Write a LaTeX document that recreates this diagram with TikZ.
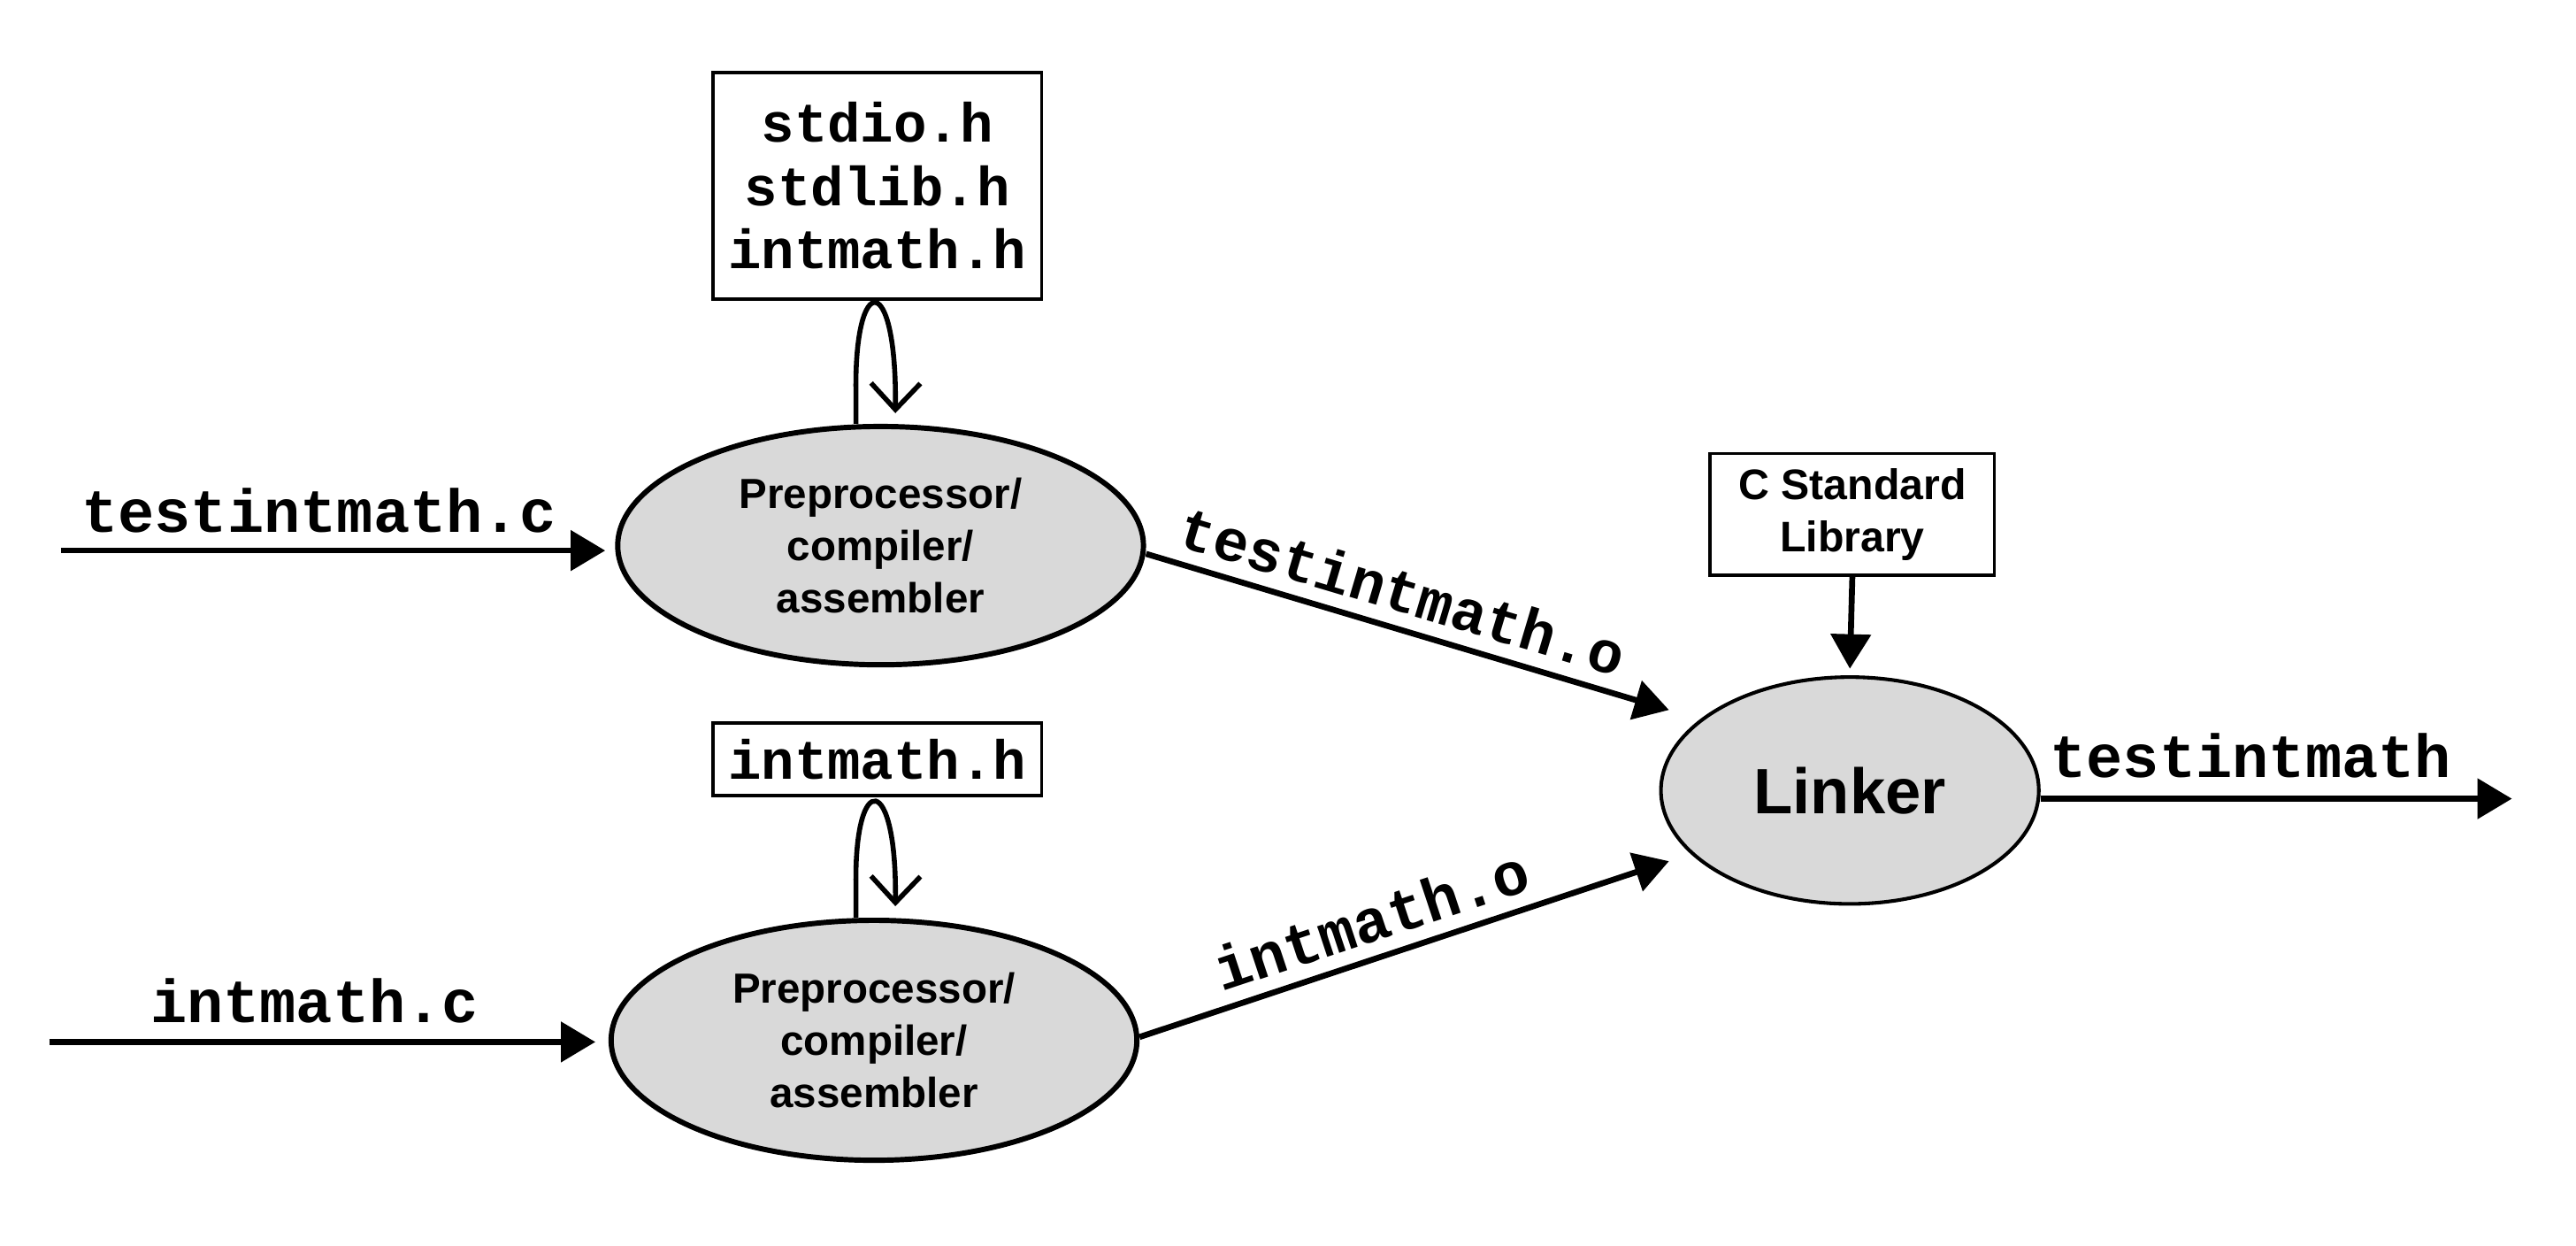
\documentclass[tikz,border=0pt]{standalone}
\usepackage{fontspec}
\setmainfont{Liberation Sans}
\newfontfamily\codefont{Liberation Mono}
\usetikzlibrary{arrows.meta,shapes.geometric,calc}
\definecolor{procfill}{HTML}{D9D9D9}
\begin{document}
\begin{tikzpicture}[x=0.5pt,y=-0.5pt,
  proc/.style={ellipse,draw,fill=procfill,line width=1.6pt,inner sep=0pt,align=center,
     font=\fontsize{12.8}{16}\selectfont\bfseries},
  hdrbox/.style={draw,line width=1pt,inner sep=0pt,align=center,
     font=\codefont\fontsize{16.8}{19.3}\selectfont\bfseries},
  libbox/.style={draw,line width=1pt,inner sep=0pt,align=center,
     font=\fontsize{13}{16}\selectfont\bfseries},
  flow/.style={line width=1.8pt,-{Triangle[length=10.5pt,width=12pt]}},
  loopline/.style={line width=1.5pt,-{Straight Barb[length=8pt,width=15pt]}},
  lbl/.style={font=\codefont\fontsize{18.5}{20}\selectfont\bfseries,inner sep=0pt}
]
\useasboundingbox (0,0) rectangle (1568,758);

% nodes
\node[hdrbox,minimum width=100pt,minimum height=69pt] (hdr1) at (534,113)
  {stdio.h\\stdlib.h\\intmath.h};
\node[proc,minimum width=160pt,minimum height=72.5pt] (e1) at (536,332)
  {Preprocessor/\\compiler/\\assembler};
\node[hdrbox,minimum width=100pt,minimum height=22pt] (hdr2) at (534,462) {intmath.h};
\node[proc,minimum width=160pt,minimum height=73pt] (e2) at (532,633)
  {Preprocessor/\\compiler/\\assembler};
\node[libbox,minimum width=86.5pt,minimum height=37pt] (lib) at (1127.5,313)
  {C Standard\\Library};
\node[proc,line width=1.1pt,minimum width=115pt,minimum height=69pt,
  font=\fontsize{19.5}{22}\selectfont\bfseries] (linker) at (1126,481) {Linker};

\coordinate (in1) at (37,335);
\coordinate (in2) at (30,634);
\coordinate (out) at (1529,486);

% input arrows
\draw[flow] (in1) -- ([xshift=-3pt,yshift=-1.5pt]e1.west);
\node[lbl,anchor=base] (l1) at (194,324) {testintmath.c};
\draw[flow] (in2) -- ([xshift=-4pt,yshift=-0.5pt]e2.west);
\node[lbl,anchor=base] (l2) at (191.5,622) {intmath.c};

% include loops
\draw[loopline] ([xshift=-7.5pt]e1.north) -- ++(0,-19.5)
   .. controls +(-1,-74) and +(1,-87) .. ([xshift=4.5pt,yshift=3.25pt]e1.north);
\draw[loopline] ([xshift=-5.5pt]e2.north) -- ++(0,-20)
   .. controls +(-1,-70) and +(1,-82) .. ([xshift=6.5pt,yshift=3.5pt]e2.north);

% object files to linker
\draw[flow] ([yshift=-2.5pt]e1.east) -- ([xshift=3pt,yshift=24.5pt]linker.west)
  node[lbl,font=\codefont\fontsize{18}{20}\selectfont\bfseries,pos=0.47,sloped,above=4pt] {testintmath.o};
\draw[flow] ([yshift=1pt]e2.east) -- ([xshift=3pt,yshift=-21.5pt]linker.west)
  node[lbl,pos=0.46,sloped,above=4pt] {intmath.o};

% library
\draw[flow] (lib.south) -- ([yshift=2pt]linker.north);

% output
\draw[flow] ([yshift=-2.5pt]linker.east) -- (out);
\node[lbl,anchor=base] (l3) at (1370,473) {testintmath};
\end{tikzpicture}
\end{document}
